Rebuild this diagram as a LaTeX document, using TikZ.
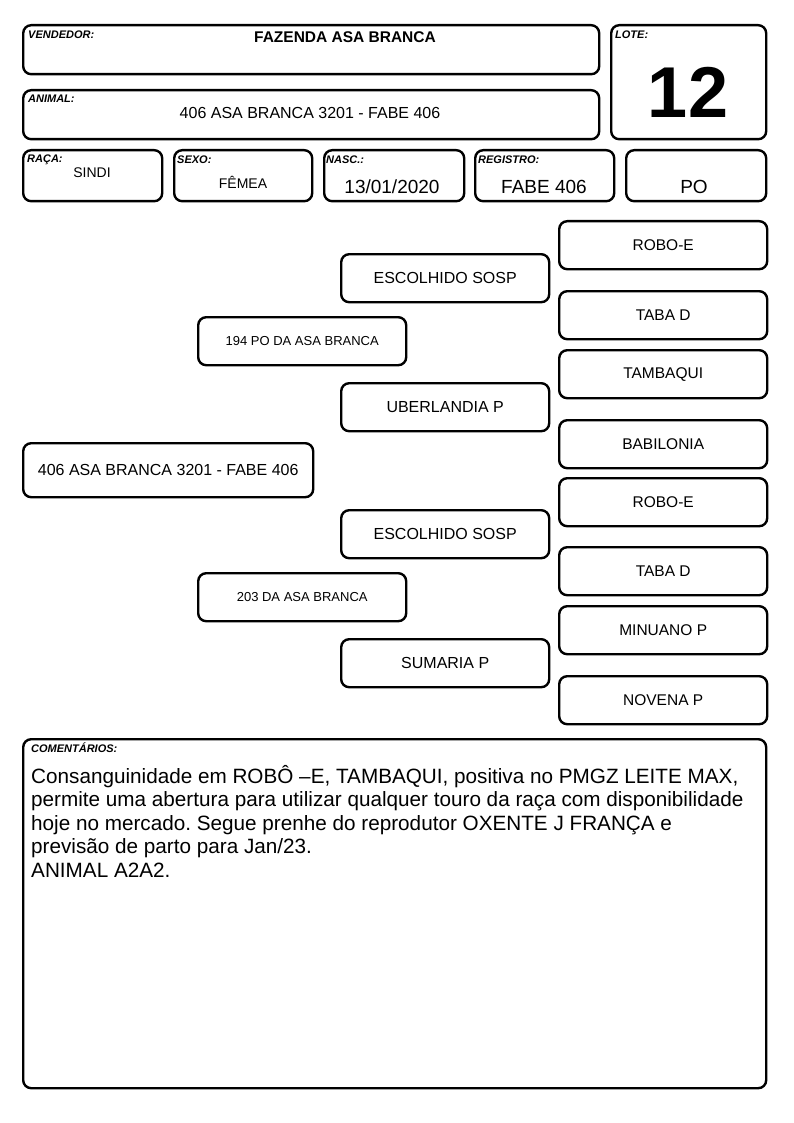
\documentclass[tikz,border=0pt]{standalone}
\usepackage{fontspec}
\setmainfont{Liberation Sans}
\frenchspacing
\newcommand\fsz[1]{\fontsize{#1}{#1}\selectfont}
\begin{document}
\begin{tikzpicture}[x=1pt,y=-1pt,
  box/.style={draw, line width=2.4pt, rounded corners=8pt, inner sep=0pt, anchor=north west},
  lab/.style={font=\fsz{11}\bfseries\itshape, inner sep=0pt, anchor=base west},
  val/.style={inner sep=0pt, anchor=base},
  ped/.style={box, minimum width=208pt, minimum height=48pt, font=\fsz{15.5}},
  pedb/.style={box, minimum width=208pt, minimum height=48pt, font=\fsz{16}},
  peds/.style={box, minimum width=208pt, minimum height=48pt, font=\fsz{13}},
  com/.style={inner sep=0pt, anchor=base west, font=\fsz{20.7}}]
\useasboundingbox (0,0) rectangle (794,1123);
% header boxes
\node[box, minimum width=576pt, minimum height=49pt] (vend) at (22,24) {};
\node[box, minimum width=155pt, minimum height=114pt] (lote) at (610,24) {};
\node[box, minimum width=576pt, minimum height=49pt] (anim) at (22,89) {};
\node[box, minimum width=139pt, minimum height=51pt] (raca) at (22,149) {};
\node[box, minimum width=138pt, minimum height=51pt] (sexo) at (173,149) {};
\node[box, minimum width=140pt, minimum height=51pt] (nasc) at (323,149) {};
\node[box, minimum width=139pt, minimum height=51pt] (reg) at (474,149) {};
\node[box, minimum width=140pt, minimum height=51pt] (cat) at (625,149) {};
% labels
\node[lab] (lvend) at (28,39) {VENDEDOR:};
\node[lab] (llote) at (615,39) {LOTE:};
\node[lab] (lanim) at (28,103) {ANIMAL:};
\node[lab] (lraca) at (27,163) {RAÇA:};
\node[lab] (lsexo) at (177,164) {SEXO:};
\node[lab] (lnasc) at (326,164) {NASC.:};
\node[lab] (lreg) at (478,164) {REGISTRO:};
% values
\node[val, font=\fsz{15.5}\bfseries] (tvend) at (345,43) {FAZENDA ASA BRANCA};
\node[val, font=\fsz{72}\bfseries] (tlote) at (688,118) {12};
\node[val, font=\fsz{16}] (tanim) at (310,119) {406 ASA BRANCA 3201 - FABE 406};
\node[val, font=\fsz{14}] (traca) at (92,178) {SINDI};
\node[val, font=\fsz{14}] (tsexo) at (243,189) {FÊMEA};
\node[val, font=\fsz{19}] (tnasc) at (392,194) {13/01/2020};
\node[val, font=\fsz{19}] (treg) at (544,194) {FABE 406};
\node[val, font=\fsz{19}] (tcat) at (694,194) {PO};
% pedigree
\node[box, minimum width=290pt, minimum height=54pt, font=\fsz{16}] (p0) at (22,442) {406 ASA BRANCA 3201 - FABE 406};
\node[peds] (p1a) at (197,316) {194 PO DA ASA BRANCA};
\node[peds] (p1b) at (197,572) {203 DA ASA BRANCA};
\node[pedb] (p2a) at (340,253) {ESCOLHIDO SOSP};
\node[pedb] (p2b) at (340,382) {UBERLANDIA P};
\node[pedb] (p2c) at (340,509) {ESCOLHIDO SOSP};
\node[pedb] (p2d) at (340,638) {SUMARIA P};
\node[ped] (p3a) at (558,220) {ROBO-E};
\node[ped] (p3b) at (558,290) {TABA D};
\node[ped] (p3c) at (558,349) {TAMBAQUI};
\node[ped] (p3d) at (558,419) {BABILONIA};
\node[ped] (p3e) at (558,477) {ROBO-E};
\node[ped] (p3f) at (558,546) {TABA D};
\node[ped] (p3g) at (558,605) {MINUANO P};
\node[ped] (p3h) at (558,675) {NOVENA P};
% comments
\node[box, minimum width=743pt, minimum height=349pt] (comm) at (22,738) {};
\node[lab] (lcomm) at (31,752) {COMENTÁRIOS:};
\node[com] (c1) at (31,783) {Consanguinidade em ROBÔ –E, TAMBAQUI, positiva no PMGZ LEITE MAX,};
\node[com] (c2) at (31,806.5) {permite uma abertura para utilizar qualquer touro da raça com disponibilidade};
\node[com] (c3) at (31,830) {hoje no mercado. Segue prenhe do reprodutor OXENTE J FRANÇA e};
\node[com] (c4) at (31,853.5) {previsão de parto para Jan/23.};
\node[com] (c5) at (31,877) {ANIMAL A2A2.};
\end{tikzpicture}
\end{document}
